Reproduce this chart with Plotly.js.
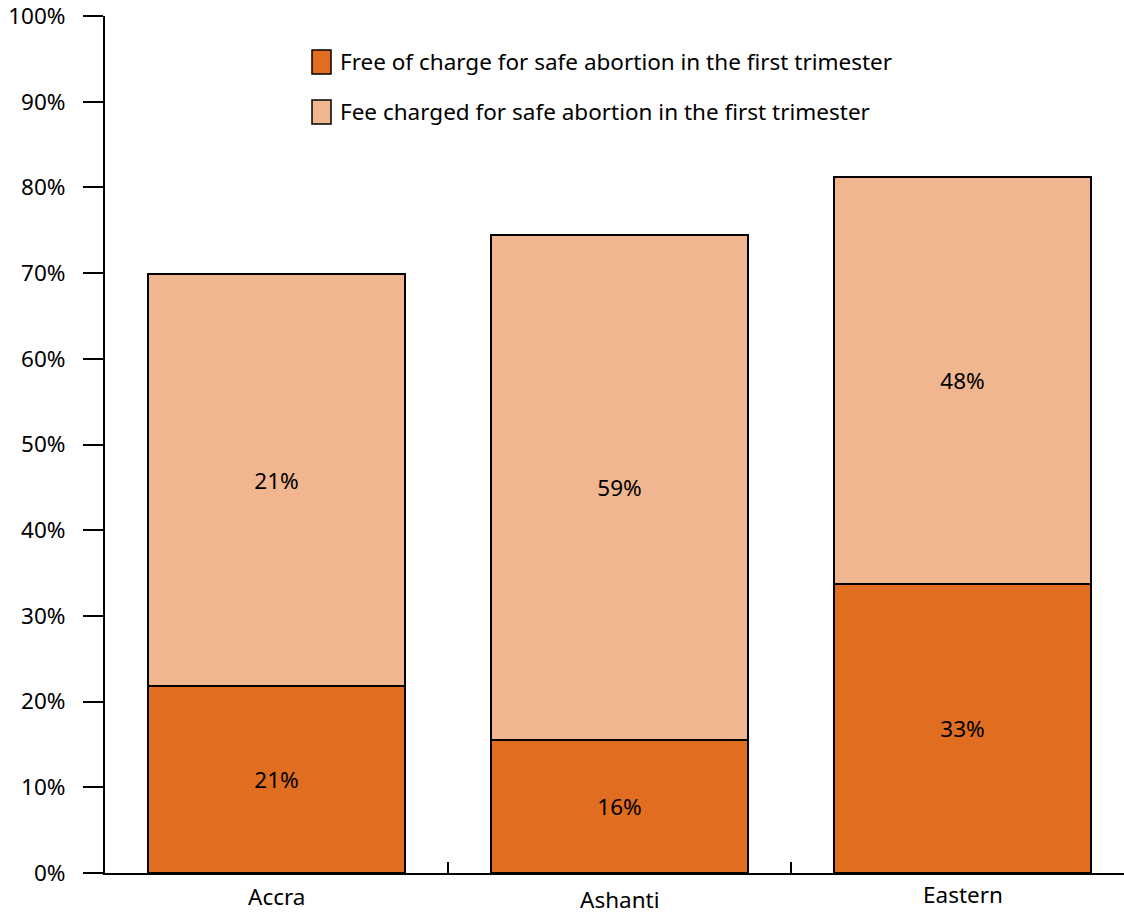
<!DOCTYPE html>
<html><head><meta charset="utf-8">
<script src="https://cdn.plot.ly/plotly-3.0.1.min.js"></script>
<style>html,body{margin:0;padding:0;background:#fff}</style>
</head><body>
<div id="chart" style="width:1124px;height:915px"></div>
<script>
// Data
const regions = ["Accra", "Ashanti", "Eastern"];
const freeValues = [21.8, 15.5, 33.7];
const feeValues = [48.1, 58.9, 47.5];
const freeLabels = ["21%", "16%", "33%"];
const feeLabels = ["21%", "59%", "48%"];
const seriesNames = [
  "Free of charge for safe abortion in the first trimester",
  "Fee charged for safe abortion in the first trimester"
];
const yTickVals = [0,10,20,30,40,50,60,70,80,90,100];

const W = 1124, H = 915;
const M = {l: 105, r: 0, t: 16, b: 42};
const pw = W - M.l - M.r, ph = H - M.t - M.b;
const FONT = "Noto Sans, Open Sans, sans-serif";
const FS = 22.5;
const darkOrange = "#E16E20";
const lightOrange = "#F0B68F";

const px2x = px => (px - M.l) / pw;
const px2y = py => (H - M.b - py) / ph;

const xIdx = regions.map((_, i) => i);

const traces = [
  {type: "bar", x: xIdx, y: freeValues, name: seriesNames[0],
   marker: {color: darkOrange, line: {color: "#000", width: 2}},
   text: freeLabels, textposition: "inside", insidetextanchor: "middle",
   textfont: {family: FONT, size: FS, color: "#000"}, width: 0.75, showlegend: false, hoverinfo: "skip"},
  {type: "bar", x: xIdx, y: feeValues, name: seriesNames[1],
   marker: {color: lightOrange, line: {color: "#000", width: 2}},
   text: feeLabels, textposition: "inside", insidetextanchor: "middle",
   textfont: {family: FONT, size: FS, color: "#000"}, width: 0.75, showlegend: false, hoverinfo: "skip"}
];

const annotations = [];
const shapes = [];
// category labels under the axis
const catShift = [-23, -26, -21];
regions.forEach((r, i) => {
  annotations.push({x: i, xref: "x", y: 0, yref: "paper", yanchor: "middle",
    yshift: catShift[i], text: r, showarrow: false,
    font: {family: FONT, size: FS, color: "#000"}});
});
// manual legend
const legendCols = [darkOrange, lightOrange];
const legendRowY = [62, 112];
seriesNames.forEach((n, i) => {
  const cy = legendRowY[i];
  shapes.push({type: "rect", xref: "paper", yref: "paper",
    x0: px2x(312), x1: px2x(331), y0: px2y(cy + 12), y1: px2y(cy - 12),
    fillcolor: legendCols[i], line: {color: "#000", width: 1.5}});
  annotations.push({xref: "paper", yref: "paper", x: px2x(338), y: px2y(cy),
    xanchor: "left", yanchor: "middle", text: n, showarrow: false,
    font: {family: FONT, size: FS, color: "#000"}});
});

const layout = {
  width: W, height: H,
  margin: M,
  paper_bgcolor: "#fff", plot_bgcolor: "#fff",
  barmode: "stack",
  showlegend: false,
  xaxis: {
    type: "linear", range: [-0.5, -0.5 + pw / 343],
    showgrid: false, zeroline: false,
    showline: true, linecolor: "#000", linewidth: 2,
    tickmode: "array", tickvals: [0.5, 1.5], ticktext: ["", ""],
    ticks: "inside", ticklen: 11, tickwidth: 2, tickcolor: "#000",
    showticklabels: false, fixedrange: true
  },
  yaxis: {
    range: [0, 100], showgrid: false, zeroline: false,
    showline: true, linecolor: "#000", linewidth: 2,
    tickmode: "array", tickvals: yTickVals, ticktext: yTickVals.map(v => v + "%"),
    ticks: "outside", ticklen: 20, tickwidth: 2, tickcolor: "#000",
    ticklabelstandoff: 13, ticklabeloverflow: "allow",
    tickfont: {family: FONT, size: FS, color: "#000"}, fixedrange: true
  },
  annotations: annotations,
  shapes: shapes
};

Plotly.newPlot("chart", traces, layout, {displayModeBar: false, staticPlot: true});
</script>
</body></html>
